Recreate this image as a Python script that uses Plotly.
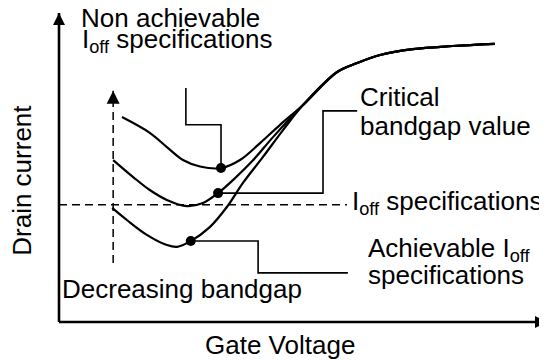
import plotly.graph_objects as go

FONT = "Liberation Sans, Arial, sans-serif"
INK = "black"

# gate voltage (x) / drain current (y), arbitrary units, axes run 0..100
top_v = [12.9, 18.6, 22.1, 25.4, 28.9, 33.2, 37.1, 41.2, 45.3, 50.0]
top_i = [66.3, 61.2, 56.6, 52.4, 50.3, 49.8, 52.4, 57.9, 63.8, 70.2]
mid_v = [11.1, 15.2, 18.6, 22.1, 26.2, 29.5, 32.6, 35.7, 39.8, 43.9, 50.0]
mid_i = [52.4, 46.9, 42.7, 39.5, 37.5, 38.5, 41.7, 46.0, 52.4, 59.9, 70.2]
low_v = [10.9, 13.9, 18.0, 22.1, 24.2, 27.0, 30.9, 34.4, 37.7, 41.8, 45.9, 50.0]
low_i = [36.9, 33.0, 28.2, 24.9, 24.3, 26.2, 30.7, 37.2, 45.0, 53.4, 62.1, 70.2]
# shared on-state branch
on_v = [57.0, 61.1, 65.8, 72.5, 80.7, 89.3]
on_i = [80.9, 83.8, 86.4, 88.3, 89.3, 90.0]

# marked points on each curve (top, middle, bottom)
dot_v = [33.2, 32.6, 27.0]
dot_i = [49.8, 41.7, 26.2]

# Ioff specification level and "decreasing bandgap" arrow
spec_v = [0, 59.0]
spec_i = [37.9, 37.9]
gap_v = [11.1, 11.1]
gap_i = [19.1, 74.8]

# leader lines to the labels
lead_top_v = [33.2, 33.2, 26.0, 26.0]
lead_top_i = [49.8, 63.8, 63.8, 75.7]
lead_mid_v = [32.6, 54.1, 54.1, 61.1]
lead_mid_i = [41.7, 41.7, 68.3, 68.3]
lead_low_v = [27.0, 40.8, 40.8, 59.2]
lead_low_i = [26.2, 26.2, 15.9, 15.9]

# axes
axis_x_v = [0, 100]
axis_x_i = [0, 0]
axis_y_v = [0, 0]
axis_y_i = [0, 100]

fig = go.Figure()


def line(x, y, width, dash=None, shape="linear"):
    fig.add_trace(go.Scatter(
        x=x, y=y, mode="lines", line_shape=shape,
        line=dict(color=INK, width=width, dash=dash),
        hoverinfo="skip", showlegend=False, cliponaxis=False,
    ))


def arrow(x, y, symbol, size):
    fig.add_trace(go.Scatter(
        x=[x], y=[y], mode="markers",
        marker=dict(symbol=symbol, size=size, color=INK),
        hoverinfo="skip", showlegend=False, cliponaxis=False,
    ))


# axes with arrow heads
line(axis_x_v, axis_x_i, 2.6)
line(axis_y_v, axis_y_i, 2.6)
arrow(axis_x_v[-1], axis_x_i[-1], "arrow-right", 12)
arrow(axis_y_v[-1], axis_y_i[-1], "arrow-up", 12)

# dashed spec line and bandgap arrow
line(spec_v, spec_i, 1.5, dash="8px,5px")
line(gap_v, gap_i, 1.5, dash="8px,5px")
arrow(gap_v[-1], gap_i[-1], "arrow-up", 13)

# leaders
line(lead_top_v, lead_top_i, 1.6)
line(lead_mid_v, lead_mid_i, 1.6)
line(lead_low_v, lead_low_i, 1.6)

# transfer curves
for v, i in ((top_v, top_i), (mid_v, mid_i), (low_v, low_i)):
    line(v + on_v, i + on_i, 2.2, shape="spline")

fig.add_trace(go.Scatter(
    x=dot_v, y=dot_i, mode="markers",
    marker=dict(size=10, color=INK),
    hoverinfo="skip", showlegend=False,
))

labels = [
    ("Non achievable", 4.1, 98.4, "left", 0),
    ("I<sub>off</sub> specifications", 4.3, 91.1, "left", 0),
    ("Critical", 61.2, 72.7, "left", 0),
    ("bandgap value", 61.2, 63.4, "left", 0),
    ("I<sub>off</sub> specifications", 59.6, 38.8, "left", 0),
    ("Achievable I<sub>off</sub>", 62.9, 23.3, "left", 0),
    ("specifications", 62.9, 15.2, "left", 0),
    ("Decreasing bandgap", 0.3, 10.8, "left", 0),
    ("Gate Voltage", 45.3, -7.4, "center", 0),
    ("Drain current", -7.6, 46.0, "center", -90),
]
for text, x, y, anchor, angle in labels:
    fig.add_annotation(
        x=x, y=y, text=text, showarrow=False,
        xanchor=anchor, yanchor="middle", textangle=angle,
        font=dict(family=FONT, size=26, color=INK),
    )

# the page body adds an 8px offset, so the ranges start 8px in
fig.update_xaxes(visible=False, range=[-10.45, 101.64])
fig.update_yaxes(visible=False, range=[-14.89, 101.6])
fig.update_layout(
    width=547, height=360,
    margin=dict(l=0, r=0, t=0, b=0),
    paper_bgcolor="white", plot_bgcolor="white",
    showlegend=False,
)

fig.write_html("out.html")
